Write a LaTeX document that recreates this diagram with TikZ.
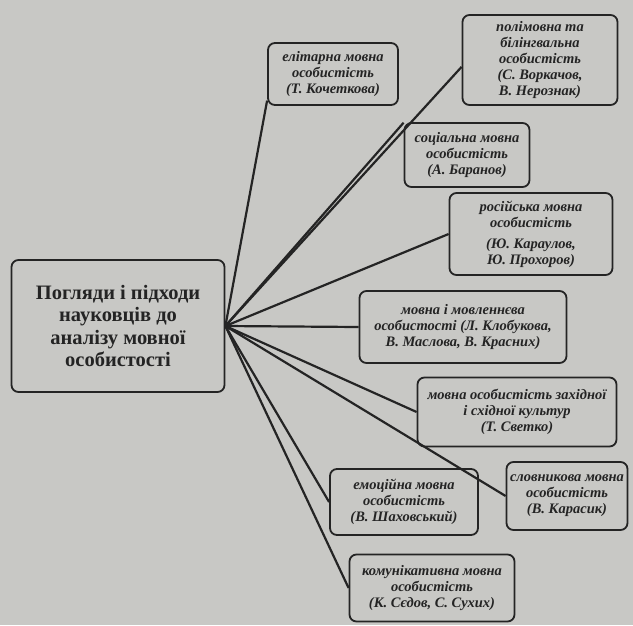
\documentclass[tikz,border=0pt]{standalone}
\usepackage{fontspec}
\setmainfont{Liberation Serif}
\usepackage{tikz}

\definecolor{paper}{RGB}{200,200,197}
\definecolor{ink}{RGB}{36,36,36}

\tikzset{
  viewbox/.style={draw=ink, line width=1.8pt, rounded corners=7pt, align=center, inner sep=2pt,
                  text=ink, font=\bfseries\itshape\fontsize{14.5}{16}\selectfont},
  mainbox/.style={viewbox, font=\bfseries\fontsize{20.5}{22.5}\selectfont},
  link/.style={draw=ink, line width=2.2pt}
}

\begin{document}
\begin{tikzpicture}[x=1pt, y=-1pt]
    \fill[use as bounding box, paper] (0,0) rectangle (633,625);

    % CENTRE
    \node[mainbox, minimum width=213pt, minimum height=132pt] (main) at (118,326)
        {Погляди і підходи\\науковців до\\аналізу мовної\\особистості};
    \coordinate (hub) at (main.east);

    % VIEWS (top to bottom)
    \node[viewbox, minimum width=130pt, minimum height=62pt] (elite)   at (333,74)
        {елітарна мовна\\особистість\\(Т. Кочеткова)};
    \node[viewbox, minimum width=155pt, minimum height=90pt] (bilingual) at (540,60)
        {полімовна та\\білінгвальна\\особистість\\(С. Воркачов,\\В. Нерознак)};
    \node[viewbox, minimum width=125pt, minimum height=64pt] (social)  at (467,155)
        {соціальна мовна\\особистість\\(А. Баранов)};
    \node[viewbox, minimum width=163pt, minimum height=82pt] (russian) at (531,234)
        {російська мовна\\особистість\\[5pt](Ю. Караулов,\\Ю. Прохоров)};
    \node[viewbox, minimum width=207pt, minimum height=72pt] (speech)  at (463,327)
        {мовна і мовленнєва\\особистості (Л. Клобукова,\\В. Маслова, В. Красних)};
    \node[viewbox, minimum width=199pt, minimum height=69pt] (culture) at (517,412)
        {мовна особистість західної\\і східної культур\\(Т. Светко)};
    \node[viewbox, minimum width=148pt, minimum height=66pt] (emotion) at (404,502)
        {емоційна мовна\\особистість\\(В. Шаховський)};
    \node[viewbox, minimum width=121pt, minimum height=68pt] (lexicon) at (567,496)
        {словникова мовна\\особистість\\(В. Карасик)};
    \node[viewbox, minimum width=165pt, minimum height=67pt] (commun)  at (432,588)
        {комунікативна мовна\\особистість\\(К. Сєдов, С. Сухих)};

    % CONNECTORS
    \draw[link] (hub) -- (elite.202);
    \draw[link] (hub) -- (bilingual.185);
    \draw[link] (hub) -- (social.153);
    \draw[link] (hub) -- (russian.west);
    \draw[link] (hub) -- (speech.west);
    \draw[link] (hub) -- (culture.west);
    \draw[link] (hub) -- (emotion.west);
    \draw[link] (hub) -- (lexicon.west);
    \draw[link] (hub) -- (commun.west);
\end{tikzpicture}
\end{document}
